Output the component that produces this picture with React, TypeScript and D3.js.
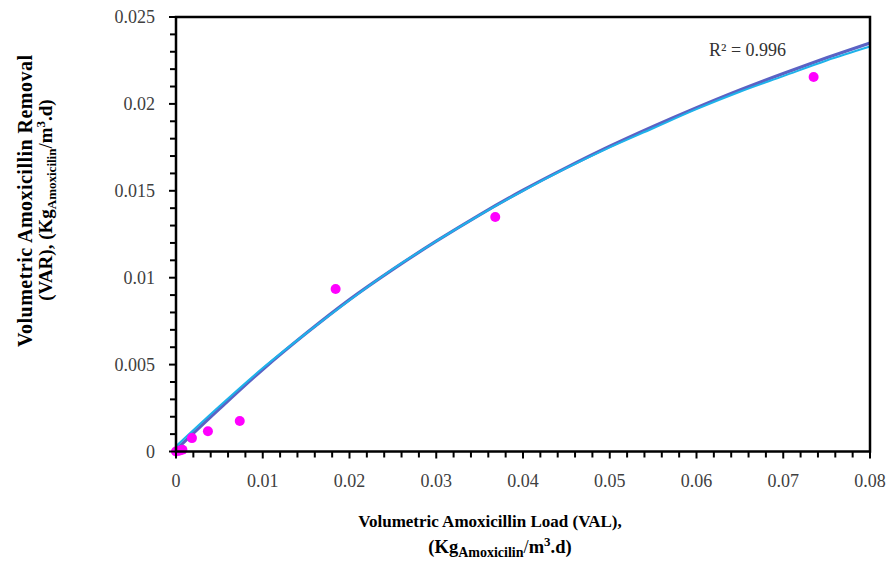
import React from 'react';
import * as d3 from 'd3';

// measured points (VAL, VAR)
const valLoad = [0, 0.00037, 0.00074, 0.00184, 0.00368, 0.00735, 0.0184, 0.0368, 0.0735];
const varRemoval = [0, 0.00004, 0.0001, 0.00077, 0.00117, 0.00175, 0.00935, 0.01349, 0.02155];

// fitted curves
const fitX = [0, 0.005, 0.01, 0.015, 0.02, 0.025, 0.03, 0.035, 0.04, 0.045, 0.05, 0.055, 0.06, 0.065, 0.07, 0.075, 0.08];
const fitPurple = [0.0001, 0.00245, 0.00472, 0.0068, 0.00874, 0.01048, 0.0121, 0.01362, 0.01503, 0.01633, 0.01756, 0.0187, 0.01978, 0.0208, 0.02175, 0.02265, 0.0235];
const fitCyan = [0.0003, 0.0026, 0.0048, 0.0068, 0.0087, 0.0105, 0.0121, 0.0136, 0.015, 0.0163, 0.0175, 0.0186, 0.0197, 0.0207, 0.0216, 0.0225, 0.0233];

const xTicks = [0, 0.01, 0.02, 0.03, 0.04, 0.05, 0.06, 0.07, 0.08];
const yTicks = [0, 0.005, 0.01, 0.015, 0.02, 0.025];
const r2Label = 'R² = 0.996';

const W = 892;
const H = 561;
const left = 176, right = 870, top = 17, bottom = 451.5;
const serif = '"Liberation Serif", "Times New Roman", serif';

export default function App() {
  const x = d3.scaleLinear().domain([0, 0.08]).range([left, right]);
  const y = d3.scaleLinear().domain([0, 0.025]).range([bottom, top]);

  const xMinor = d3.range(0, 0.0801, 0.002).filter(v => Math.abs(v * 100 - Math.round(v * 100)) > 1e-6);
  const yMinor = d3.range(0, 0.02501, 0.001).filter(v => Math.abs(v * 200 - Math.round(v * 200)) > 1e-6);

  const line = d3.line<number>()
    .x((_, i) => x(fitX[i]))
    .y(d => y(d))
    .curve(d3.curveMonotoneX);

  const fmt = (v: number) => (v === 0 ? '0' : String(+v.toFixed(3)));

  return (
    <svg width={W} height={H} style={{ position: 'absolute', left: 0, top: 0, background: '#fff' }}>
      <rect x={0} y={0} width={W} height={H} fill="#fff" />

      {/* fit curves */}
      <path d={line(fitPurple) || ''} fill="none" stroke="#5b62c4" strokeWidth={3.2} />
      <path d={line(fitCyan) || ''} fill="none" stroke="#1eb2ea" strokeWidth={2} />

      {/* points */}
      {valLoad.map((v, i) => (
        <circle key={i} cx={x(v)} cy={y(varRemoval[i])} r={5} fill="#ff00ff" />
      ))}

      {/* frame */}
      <rect x={left} y={top} width={right - left} height={bottom - top} fill="none" stroke="#000" strokeWidth={2.5} />

      {/* x ticks */}
      {xTicks.map(t => (
        <g key={'xt' + t}>
          <line x1={x(t)} x2={x(t)} y1={bottom} y2={bottom + 7} stroke="#000" strokeWidth={2} />
          <text x={x(t)} y={487} textAnchor="middle" fontFamily={serif} fontSize={18} fill="#404040">{fmt(t)}</text>
        </g>
      ))}
      {xMinor.map(t => (
        <line key={'xm' + t} x1={x(t)} x2={x(t)} y1={bottom} y2={bottom + 6} stroke="#000" strokeWidth={2} />
      ))}

      {/* y ticks */}
      {yTicks.map(t => (
        <g key={'yt' + t}>
          <line x1={left - 7} x2={left} y1={y(t)} y2={y(t)} stroke="#000" strokeWidth={2} />
          <text x={155} y={y(t) + 6} textAnchor="end" fontFamily={serif} fontSize={18} fill="#404040">{fmt(t)}</text>
        </g>
      ))}
      {yMinor.map(t => (
        <line key={'ym' + t} x1={left - 6} x2={left} y1={y(t)} y2={y(t)} stroke="#000" strokeWidth={2} />
      ))}

      {/* R2 label */}
      <text x={709} y={56} fontFamily={serif} fontSize={18} fill="#333">{r2Label}</text>

      {/* x title */}
      <text x={490} y={527} textAnchor="middle" fontFamily={serif} fontSize={17} fontWeight="bold" fill="#000">
        Volumetric Amoxicillin Load (VAL),
      </text>
      <text x={500} y={553} textAnchor="middle" fontFamily={serif} fontSize={18.5} fontWeight="bold" fill="#000">
        (Kg<tspan fontSize={14} dy={4}>Amoxicilin</tspan><tspan dy={-4} fontWeight="normal">/</tspan>m<tspan fontSize={13} dy={-7}>3</tspan><tspan dy={7}>.d)</tspan>
      </text>

      {/* y title */}
      <g transform="translate(32,201) rotate(-90)">
        <text x={0} y={0} textAnchor="middle" fontFamily={serif} fontSize={20} fontWeight="bold" fill="#000"
          textLength={292} lengthAdjust="spacing">
          Volumetric Amoxicillin Removal
        </text>
      </g>
      <g transform="translate(52,200) rotate(-90)">
        <text x={0} y={0} textAnchor="middle" fontFamily={serif} fontSize={19} fontWeight="bold" fill="#000">
          (VAR), (Kg<tspan fontSize={13} dy={4}>Amoxicilin</tspan><tspan dy={-4} fontWeight="normal">/</tspan>m<tspan fontSize={13} dy={-7}>3</tspan><tspan dy={7}>.d)</tspan>
        </text>
      </g>
    </svg>
  );
}
